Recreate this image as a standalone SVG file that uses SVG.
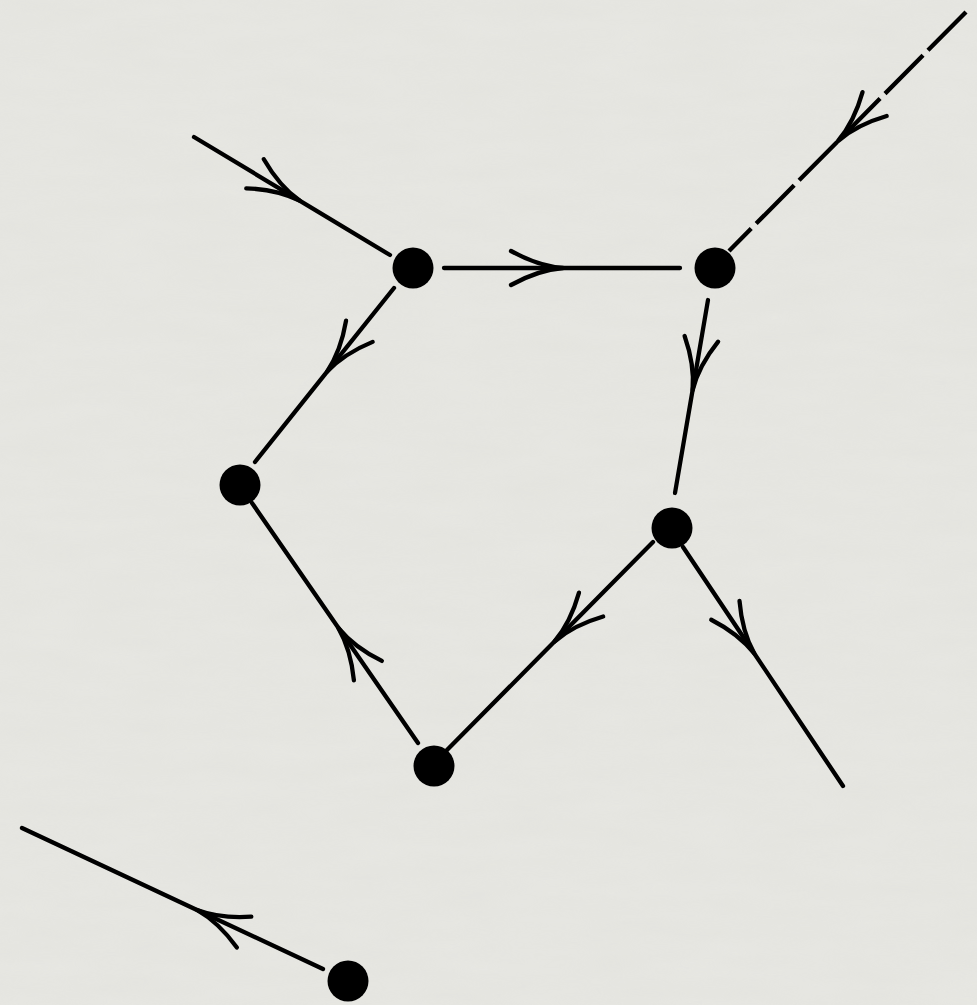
<svg xmlns="http://www.w3.org/2000/svg" width="977" height="1005" viewBox="0 0 977 1005">
  <style>
    .edge { fill: none; stroke: #000; stroke-width: 4.3; stroke-linecap: round; stroke-linejoin: round; }
    .dashed { stroke-dasharray: 54 7; stroke-linecap: butt; }
    .node { fill: #000; }
    .head { fill: none; stroke: #000; stroke-width: 4.3; stroke-linecap: round; stroke-linejoin: round; }
  </style>
  <defs>
    <marker id="arrow" markerUnits="userSpaceOnUse" orient="auto" refX="0" refY="0" markerWidth="1" markerHeight="1" overflow="visible">
      <path class="head" d="M -52 -17 Q -25 -2 0 0 Q -25 2 -52 17"/>
    </marker>
    <filter id="grain" x="0" y="0" width="100%" height="100%">
      <feTurbulence type="fractalNoise" baseFrequency="0.012 0.05" numOctaves="3" seed="4" result="n"/>
      <feColorMatrix in="n" type="matrix" values="0 0 0 0 0.85  0 0 0 0 0.85  0 0 0 0 0.82  0 0 0 0.45 0"/>
    </filter>
  </defs>
  <rect width="977" height="1005" fill="#e4e4df"/>
  <rect width="977" height="1005" filter="url(#grain)" opacity="0.7"/>
  <g id="connectors">
    <path class="edge" marker-mid="url(#arrow)" d="M 194 137 L 299.6 200.6 L 390 255"/>
    <path class="edge dashed" marker-mid="url(#arrow)" d="M 966 12 L 838 141 L 729 251"/>
    <path class="edge" marker-mid="url(#arrow)" d="M 444 268 L 563 268 L 680 268"/>
    <path class="edge" marker-mid="url(#arrow)" d="M 394 288 L 326.9 371.9 L 255 462"/>
    <path class="edge" marker-mid="url(#arrow)" d="M 708 300 L 692.6 390.1 L 675 493"/>
    <path class="edge" marker-mid="url(#arrow)" d="M 653 542 L 554.5 641.5 L 447 750"/>
    <path class="edge" marker-mid="url(#arrow)" d="M 418 743 L 338.3 627.8 L 252 503"/>
    <path class="edge" marker-mid="url(#arrow)" d="M 683 547 L 754.3 653.5 L 843 786"/>
    <path class="edge" marker-mid="url(#arrow)" d="M 323 969 L 197 910 L 22 828"/>
  </g>
  <g id="node-a"><circle class="node" cx="413" cy="268" r="20.5"/></g>
  <g id="node-b"><circle class="node" cx="715" cy="268" r="20.5"/></g>
  <g id="node-c"><circle class="node" cx="240" cy="485" r="20.5"/></g>
  <g id="node-d"><circle class="node" cx="672" cy="528" r="20.5"/></g>
  <g id="node-e"><circle class="node" cx="434" cy="766" r="20.5"/></g>
  <g id="node-f"><circle class="node" cx="348" cy="981" r="20.5"/></g>
</svg>
